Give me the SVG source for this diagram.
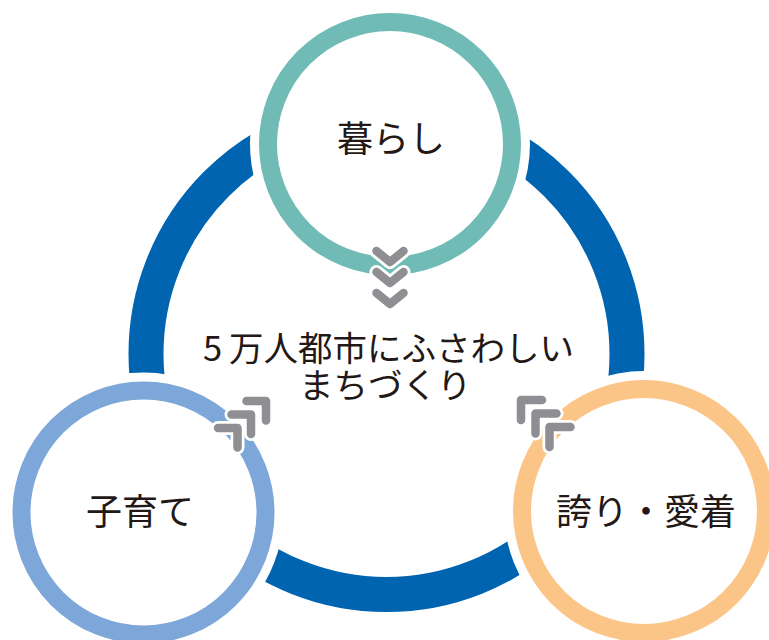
<svg xmlns="http://www.w3.org/2000/svg" width="769" height="640" viewBox="0 0 769 640">
<style>
.lbl{font-family:"Noto Sans CJK JP","Noto Sans",sans-serif;fill:#231815;}
.halo{fill:#ffffff;stroke:#ffffff;stroke-width:36;}
.ring{fill:none;stroke-width:18;}
.mk-w{fill:none;stroke:#ffffff;stroke-width:14;stroke-linecap:round;stroke-linejoin:round;}
.mk{fill:none;stroke:#8e8e93;stroke-width:8.5;stroke-linecap:round;stroke-linejoin:round;}
</style>
<defs>
<path id="chev" d="M -13.5 0 L 0 11 L 13.5 0"/>
<path id="cornerL" d="M -19.5 0 H 0 V 19.5"/>
<path id="cornerR" d="M 21 0 H 0 V 20"/>
</defs>
<rect width="769" height="640" fill="#ffffff"/>
<g id="cycle-ring">
<circle cx="386.5" cy="354" r="240.5" fill="none" stroke="#0064b1" stroke-width="35"/>
</g>
<g id="node-kurashi">
<circle class="halo" cx="390" cy="144" r="122"/>
<circle class="ring" cx="390" cy="144" r="122" stroke="#70bbb5"/>
<text class="lbl" x="391" y="152" font-size="36" text-anchor="middle">暮らし</text>
</g>
<g id="node-kosodate">
<circle class="halo" cx="143.5" cy="512.5" r="122"/>
<circle class="ring" cx="143.5" cy="512.5" r="122" stroke="#7ea7d9"/>
<text class="lbl" x="140" y="525" font-size="36" text-anchor="middle">子育て</text>
</g>
<g id="node-hokori">
<circle class="halo" cx="644" cy="511" r="122"/>
<circle class="ring" cx="644" cy="511" r="122" stroke="#fcc588"/>
<text class="lbl" x="646" y="525" font-size="36" text-anchor="middle">誇り・愛着</text>
</g>
<g id="connectors">
<g id="arrows-top">
<use href="#chev" class="mk-w" x="390" y="251"/>
<use href="#chev" class="mk" x="390" y="251"/>
<use href="#chev" class="mk-w" x="390" y="272"/>
<use href="#chev" class="mk" x="390" y="272"/>
<use href="#chev" class="mk-w" x="390" y="293"/>
<use href="#chev" class="mk" x="390" y="293"/>
</g>
<g id="arrows-left">
<use href="#cornerL" class="mk-w" x="266" y="401"/>
<use href="#cornerL" class="mk" x="266" y="401"/>
<use href="#cornerL" class="mk-w" x="251" y="414.5"/>
<use href="#cornerL" class="mk" x="251" y="414.5"/>
<use href="#cornerL" class="mk-w" x="237.5" y="428"/>
<use href="#cornerL" class="mk" x="237.5" y="428"/>
</g>
<g id="arrows-right">
<use href="#cornerR" class="mk-w" x="521" y="400"/>
<use href="#cornerR" class="mk" x="521" y="400"/>
<use href="#cornerR" class="mk-w" x="535.5" y="413.5"/>
<use href="#cornerR" class="mk" x="535.5" y="413.5"/>
<use href="#cornerR" class="mk-w" x="549.5" y="427"/>
<use href="#cornerR" class="mk" x="549.5" y="427"/>
</g>
</g>
<g id="center-title">
<text class="lbl" font-size="34.5"><tspan x="203" y="361">5</tspan><tspan x="229" y="361">万人都市にふさわしい</tspan><tspan x="299" y="398">まちづくり</tspan></text>
</g>
</svg>
